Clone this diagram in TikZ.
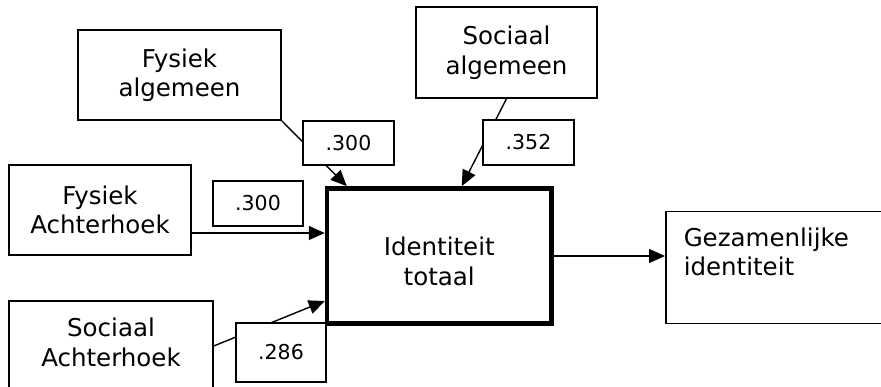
\documentclass[tikz,border=0pt]{standalone}
\usepackage{fontspec}
\setmainfont{DejaVu Sans}
\usetikzlibrary{arrows.meta,calc}

\begin{document}
\begin{tikzpicture}[x=1pt,y=-1pt,>={Triangle[length=16pt,width=14pt]},
  kader/.style={draw,line width=1.5pt,align=center,inner sep=0pt,
    font=\fontsize{24.5}{29.5}\selectfont},
  gewicht/.style={draw,fill=white,line width=1.4pt,inner sep=0pt,
    font=\fontsize{20.5}{24}\selectfont},
  pijl/.style={->,line width=1.4pt}]
  \useasboundingbox (0,0) rectangle (881,387);

  % Bronnen van identiteit
  \node[kader,minimum width=203pt,minimum height=90pt] (fa) at (179.5,75) {Fysiek\\algemeen};
  \node[kader,minimum width=181pt,minimum height=91pt] (sa) at (506.5,52.5) {Sociaal\\algemeen};
  \node[kader,minimum width=182pt,minimum height=90pt] (fh) at (100,210) {Fysiek\\Achterhoek};
  \node[kader,anchor=base,text width=204pt,inner ysep=17.4pt,text depth=40.6pt] (sh) at (111,337) {Sociaal\\Achterhoek};

  % Totaal en uitkomst
  \node[kader,line width=4.5pt,anchor=base,text width=224.5pt,inner ysep=49pt,text depth=18.5pt] (tot) at (439.25,256) {Identiteit\\totaal};
  \node[kader,anchor=north west,align=left,text width=200pt,inner xsep=18pt,inner ysep=16pt,
    text depth=61pt] (gez) at (665,211) {Gezamenlijke\\identiteit};

  % Paden
  \draw[pijl] (fa.south east) -- ($(tot.north west)+(22,0)$);
  \draw[pijl] (sa.south) -- ($(tot.north west)+(137,0)$);
  \draw[pijl] (fh.east |- 0,233) -- (tot.west |- 0,233);
  \draw[pijl] (sh.east |- 0,346) -- (tot.west |- 0,301);
  \draw[pijl] (tot.east |- 0,256) -- (tot.east |- 0,256 -| gez.west);

  % Gewichten
  \node[gewicht,minimum width=91pt,minimum height=44pt] (w1) at (348.5,143) {.300};
  \node[gewicht,minimum width=91pt,minimum height=45pt] (w2) at (528.5,142.5) {.352};
  \node[gewicht,minimum width=90pt,minimum height=45pt] (w3) at (258,203.5) {.300};
  \node[gewicht,minimum width=90pt,minimum height=59pt] (w4) at (281,352.5) {.286};
\end{tikzpicture}
\end{document}
